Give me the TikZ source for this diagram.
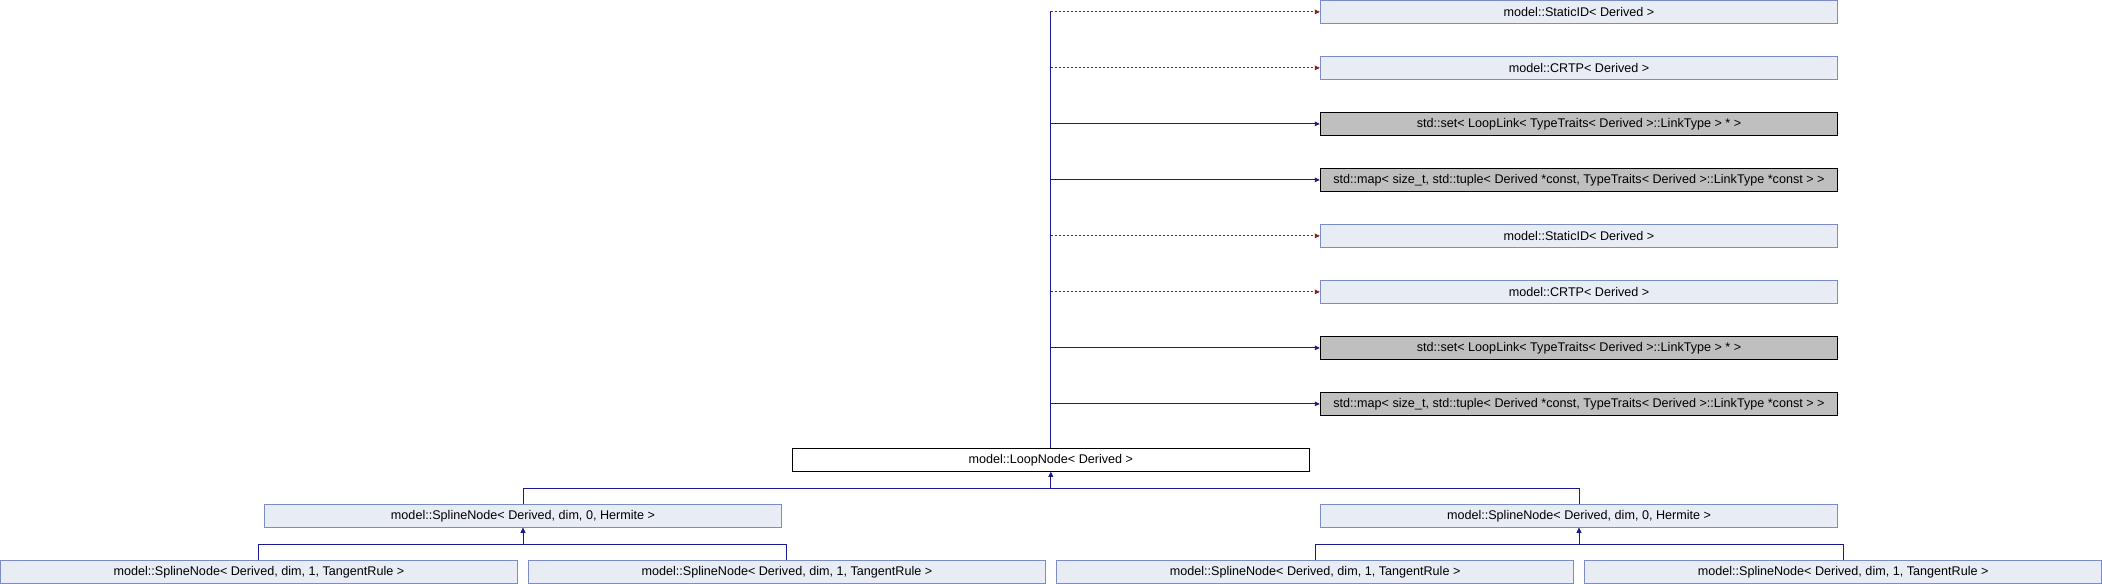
\documentclass[tikz,border=0pt]{standalone}
\usepackage{fontspec}
\setmainfont{Liberation Sans}
\usetikzlibrary{arrows.meta}
\definecolor{boxfill}{RGB}{232,236,244}
\definecolor{boxline}{RGB}{122,141,198}
\definecolor{extfill}{RGB}{191,191,191}
\definecolor{pubblue}{RGB}{25,25,145}
\definecolor{tplred}{RGB}{139,26,26}
\tikzset{
  cls/.style={draw=boxline, fill=boxfill, line width=0.75pt, minimum width=388pt, minimum height=17.1pt, inner sep=0pt, font=\fontsize{9.45}{11}\selectfont},
  ext/.style={cls, draw=black, fill=extfill},
  main/.style={cls, draw=black, fill=white},
  pub/.style={draw=pubblue, line width=0.75pt, -{Triangle[length=3.8pt,width=3.4pt]}},
  tpl/.style={draw=tplred, line width=0.75pt, dash pattern=on 1.5pt off 1.5pt, -{Triangle[length=3.8pt,width=3.4pt]}},
}
\begin{document}
\begin{tikzpicture}[x=0.75pt,y=-0.75pt]
\useasboundingbox (0,0) rectangle (2102,584);
% base classes
\node[cls] (s1) at (1579,11.9) {model::StaticID< Derived >};
\node[cls] (c1) at (1579,67.9) {model::CRTP< Derived >};
\node[ext] (set1) at (1579,123.9) {std::set< LoopLink< TypeTraits< Derived >::LinkType > * >};
\node[ext] (map1) at (1579,179.9) {std::map< size\_t, std::tuple< Derived *const, TypeTraits< Derived >::LinkType *const > >};
\node[cls] (s2) at (1579,235.9) {model::StaticID< Derived >};
\node[cls] (c2) at (1579,291.9) {model::CRTP< Derived >};
\node[ext] (set2) at (1579,347.9) {std::set< LoopLink< TypeTraits< Derived >::LinkType > * >};
\node[ext] (map2) at (1579,403.9) {std::map< size\_t, std::tuple< Derived *const, TypeTraits< Derived >::LinkType *const > >};
% main
\node[main] (loop) at (1050.8,459.9) {model::LoopNode< Derived >};
% hermite
\node[cls] (hl) at (523,515.8) {model::SplineNode< Derived, dim, 0, Hermite >};
\node[cls] (hr) at (1579,515.8) {model::SplineNode< Derived, dim, 0, Hermite >};
% tangent rule
\node[cls] (t1) at (258.9,571.8) {model::SplineNode< Derived, dim, 1, TangentRule >};
\node[cls] (t2) at (786.9,571.8) {model::SplineNode< Derived, dim, 1, TangentRule >};
\node[cls] (t3) at (1315.1,571.8) {model::SplineNode< Derived, dim, 1, TangentRule >};
\node[cls] (t4) at (1843.1,571.8) {model::SplineNode< Derived, dim, 1, TangentRule >};
% junction coordinates
\coordinate (jtop) at (1050.8,488);
\coordinate (jl) at (523,544.3);
\coordinate (jr) at (1579,544.3);
% connectors to bases
\draw[tpl] (loop.north) |- (s1.west);
\draw[tpl] (loop.north) |- (c1.west);
\draw[pub] (loop.north) |- (set1.west);
\draw[pub] (loop.north) |- (map1.west);
\draw[tpl] (loop.north) |- (s2.west);
\draw[tpl] (loop.north) |- (c2.west);
\draw[pub] (loop.north) |- (set2.west);
\draw[pub] (loop.north) |- (map2.west);
\draw[draw=pubblue, line width=0.75pt] (loop.north) -- (loop.north |- s1.west);
% hermite to loop
\draw[pub] (hl.north) |- (jtop) -- (loop.south);
\draw[pub] (hr.north) |- (jtop) -- (loop.south);
% tangent to hermite
\draw[pub] (t1.north) |- (jl) -- (hl.south);
\draw[pub] (t2.north) |- (jl) -- (hl.south);
\draw[pub] (t3.north) |- (jr) -- (hr.south);
\draw[pub] (t4.north) |- (jr) -- (hr.south);
\end{tikzpicture}
\end{document}
